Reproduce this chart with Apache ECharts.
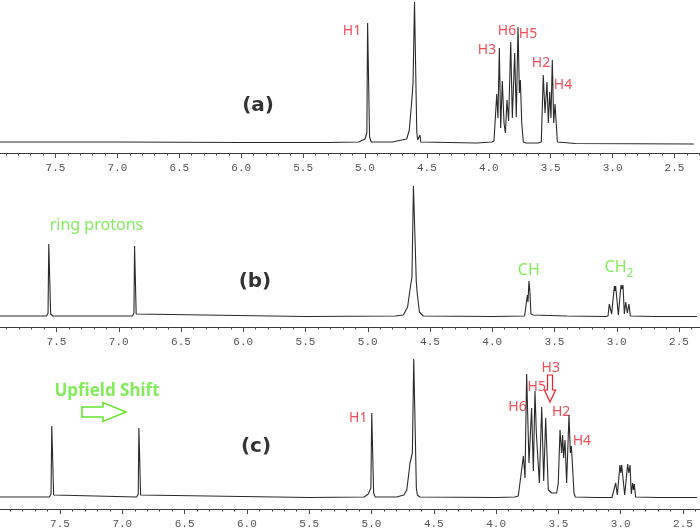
<!DOCTYPE html>
<html>
<head>
<meta charset="utf-8">
<script src="https://cdn.jsdelivr.net/npm/echarts@6/dist/echarts.min.js"></script>
<style>
html,body{margin:0;padding:0;background:#fff;}
#chart{width:700px;height:532px;}
</style>
</head>
<body>
<div id="chart"></div>
<script>
// Tick labels (ppm)
const tickLabels = ['7.5','7.0','6.5','6.0','5.5','5.0','4.5','4.0','3.5','3.0','2.5'];

// Spectrum (a): [ppm, intensity]
const spectrumA = [
[7.948,1],[7.0,1],[6.0,0.5],[5.3,0.5],[5.05,1],[5.0,4],[4.985,10],[4.979,120],[4.970,120],[4.963,6],[4.95,1],
[4.78,1],[4.663,4],[4.642,13],[4.623,41],[4.612,60],[4.600,141],[4.590,141],[4.582,12],[4.575,3],[4.562,2],[4.556,8],[4.550,1],
[4.1,0],[3.975,1],[3.958,2],[3.936,49],[3.926,25],[3.915,95],[3.904,15],[3.891,62],[3.877,20],[3.866,10],[3.853,43],[3.840,22],
[3.823,101],[3.810,25],[3.791,90],[3.778,26],[3.764,116],[3.753,50],[3.745,63],[3.734,20],[3.721,1],[3.70,0],
[3.6,0],[3.576,1],[3.560,68],[3.546,30],[3.530,61],[3.519,20],[3.508,51],[3.498,25],[3.487,83],[3.476,20],[3.465,39],[3.446,1],
[3.3,-0.5],[2.343,-1]
];

// Spectrum (b)
const spectrumB = [
[7.954,1],[7.58,1],[7.568,4],[7.562,73],[7.554,73],[7.547,3],[7.53,1],
[6.89,1],[6.878,4],[6.873,71],[6.866,71],[6.86,3],[6.845,1],
[5.5,0.5],[4.78,1],[4.714,2],[4.68,10],[4.661,27],[4.645,40],[4.633,131],[4.621,131],[4.610,35],[4.602,23],[4.585,5],[4.554,1],
[4.0,0.5],[3.74,1],[3.729,2],[3.718,22],[3.713,15],[3.705,36],[3.697,24],[3.689,3],[3.67,2],[3.4,1],
[3.09,0.5],[3.070,1],[3.060,13],[3.041,3],[3.019,31],[3.014,26],[3.009,31],[2.987,2],[2.966,32],[2.958,28],[2.950,32],
[2.939,3],[2.928,15],[2.915,4],[2.902,13],[2.891,1],[2.7,0.5],[2.355,0.5]
];

// Spectrum (c)
const spectrumC = [
[7.982,1],[7.585,1],[7.572,4],[7.566,72],[7.558,72],[7.551,3],[7.535,1],
[6.885,1],[6.872,4],[6.867,70],[6.860,70],[6.853,3],[6.84,1],
[5.5,0.5],[5.06,1],[5.026,4],[5.005,10],[4.998,85],[4.990,85],[4.983,5],[4.97,1],
[4.80,1],[4.74,3],[4.717,8],[4.70,25],[4.691,35],[4.672,45],[4.661,139],[4.649,139],[4.640,10],[4.632,3],[4.625,2],[4.619,5],[4.612,1],
[4.0,0.5],[3.85,1],[3.822,2],[3.808,3],[3.781,42],[3.768,20],[3.755,124],[3.736,35],[3.715,90],[3.701,27],[3.688,107],[3.677,65],
[3.666,67],[3.653,15],[3.634,91],[3.618,17],[3.602,80],[3.581,8],[3.554,5],[3.514,5],[3.501,15],[3.487,68],[3.474,45],[3.466,63],
[3.458,40],[3.447,58],[3.434,15],[3.415,83],[3.404,45],[3.396,52],[3.388,35],[3.375,5],[3.364,1],[3.2,0.5],
[3.07,0.5],[3.054,1],[3.040,15],[3.027,3],[3.006,33],[2.999,25],[2.992,33],[2.968,3],[2.944,34],[2.935,25],[2.925,33],
[2.915,4],[2.904,15],[2.897,8],[2.891,14],[2.880,1],[2.7,0.5],[2.388,0.5]
];

// Annotations: [text, ppm, intensity, kind]
const annotationsA = [['H1',5.105,112,'red'],['H3',4.015,93,'red'],['H6',3.853,112,'red'],['H5',3.683,109,'red'],['H2',3.578,80,'red'],['H4',3.401,58,'red'],['(a)',5.864,37,'letter']];
const annotationsB = [['ring protons',7.179,91.5,'green'],['(b)',5.906,35,'letter'],['CH',3.706,47,'green'],['CH',3.010,49.5,'green'],['2',2.894,43,'greenSub']];
const annotationsC = [['Upfield Shift',7.123,107,'greenBold'],['(c)',5.927,51,'letter'],['H1',5.106,80,'red'],['H6',3.828,90.5,'red'],['H5',3.674,111.3,'red'],['H3',3.561,129.7,'red'],['H2',3.478,86,'red'],['H4',3.312,57,'red']];

const RED = '#f02030', GREEN = '#63e72f';
const labelStyles = {
  red: {color: RED, fontFamily: 'Noto Sans', fontSize: 14},
  green: {color: GREEN, fontFamily: 'Noto Sans', fontSize: 16},
  greenSub: {color: GREEN, fontFamily: 'Noto Sans', fontSize: 12},
  greenBold: {color: GREEN, fontFamily: 'Noto Sans', fontSize: 17, fontWeight: 'bold'},
  letter: {color: '#000', fontFamily: 'DejaVu Sans', fontSize: 20, fontWeight: 'bold'}
};

const grids = [
  {left: -6.4, width: 742.8, top: 0, height: 153, outerBoundsMode: 'none', containLabel: false},
  {left: -5.75, width: 747, top: 184, height: 143, outerBoundsMode: 'none', containLabel: false},
  {left: -2.3, width: 747.6, top: 354, height: 155, outerBoundsMode: 'none', containLabel: false}
];
const yRanges = [[-10,143],[-10,133],[-11,144]];

const xAxes = grids.map((g, i) => ({
  gridIndex: i, type: 'value', inverse: true, min: 2, max: 8, interval: 0.5,
  axisLine: {show: true, onZero: false, lineStyle: {color: '#3a3a3a', width: 1}},
  axisTick: {show: true, length: 5, lineStyle: {color: '#4a4a4a', width: 1}},
  minorTick: {show: true, splitNumber: 5, length: 2.5, lineStyle: {color: '#4a4a4a', width: 1}},
  splitLine: {show: false}, minorSplitLine: {show: false},
  axisLabel: {
    show: true, margin: 10, color: '#555', fontFamily: 'Liberation Mono', fontSize: 11,
    showMinLabel: false, showMaxLabel: false,
    formatter: v => { const s = v.toFixed(1); return tickLabels.includes(s) ? s : ''; }
  }
}));
const yAxes = yRanges.map((r, i) => ({gridIndex: i, type: 'value', min: r[0], max: r[1], show: false}));

const spectra = [spectrumA, spectrumB, spectrumC];
const annots = [annotationsA, annotationsB, annotationsC];

const series = [];
spectra.forEach((d, i) => {
  series.push({
    type: 'line', xAxisIndex: i, yAxisIndex: i, data: d, showSymbol: false, symbol: 'none',
    lineStyle: {color: '#2a2a2a', width: 1.1}, silent: true, animation: false
  });
});
annots.forEach((arr, i) => {
  series.push({
    type: 'scatter', xAxisIndex: i, yAxisIndex: i, symbolSize: 1, silent: true, animation: false,
    itemStyle: {color: 'rgba(0,0,0,0)'},
    labelLayout: {hideOverlap: false},
    data: arr.map(a => ({
      name: a[0], value: [a[1], a[2]],
      label: Object.assign({show: true, position: 'inside', formatter: '{b}'}, labelStyles[a[3]])
    }))
  });
});

const chart = echarts.init(document.getElementById('chart'), null, {renderer: 'canvas', width: 700, height: 532});
chart.setOption({
  backgroundColor: '#fff',
  animation: false,
  grid: grids,
  xAxis: xAxes,
  yAxis: yAxes,
  series: series,
  graphic: [
    {type: 'polygon', silent: true,
     shape: {points: [[82,407],[103,407],[103,402.5],[126,412],[103,421.5],[103,417],[82,417]]},
     style: {fill: '#fff', stroke: GREEN, lineWidth: 1.5}},
    {type: 'polygon', silent: true,
     shape: {points: [[547.5,375],[552.5,375],[552.5,390],[555.5,390],[550,402],[544.5,390],[547.5,390]]},
     style: {fill: '#fff', stroke: RED, lineWidth: 1.2}}
  ]
});
</script>
</body>
</html>
